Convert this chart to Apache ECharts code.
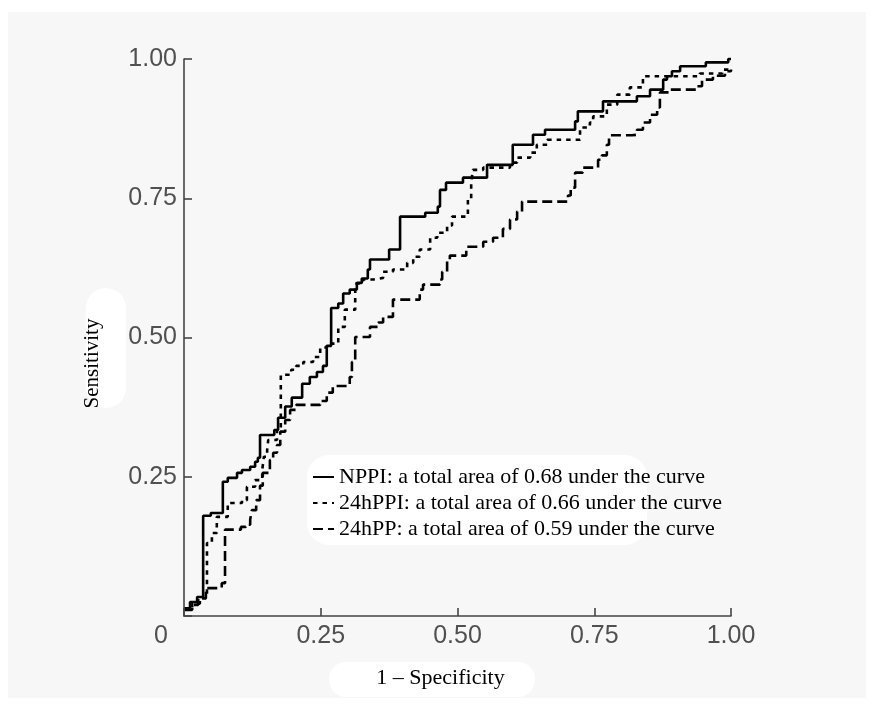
<!DOCTYPE html>
<html>
<head>
<meta charset="utf-8">
<script src="https://cdn.jsdelivr.net/npm/echarts@6/dist/echarts.min.js"></script>
<style>
html,body{margin:0;padding:0;background:#ffffff;}
#bg{position:absolute;left:8px;top:12px;width:858px;height:686px;background:#f7f7f7;}
#chart{position:absolute;left:0;top:0;width:874px;height:707px;}
</style>
</head>
<body>
<div id="bg"></div>
<div id="chart"></div>
<script>
// Tick values
const xTicks = [0, 0.25, 0.5, 0.75, 1.0];
const yTicks = [0.25, 0.5, 0.75, 1.0];

// Series names
const seriesNames = [
  'NPPI: a total area of 0.68 under the curve',
  '24hPPI: a total area of 0.66 under the curve',
  '24hPP: a total area of 0.59 under the curve'
];

// NPPI (solid) ROC corners: 1 - specificity / sensitivity
const nppiX = [0, 0.011, 0.024, 0.035, 0.049, 0.071, 0.080, 0.097, 0.106, 0.121, 0.130, 0.135, 0.139, 0.165, 0.172, 0.185, 0.197, 0.216, 0.230, 0.243, 0.254, 0.261, 0.269, 0.282, 0.291, 0.303, 0.316, 0.325, 0.336, 0.340, 0.375, 0.395, 0.441, 0.464, 0.468, 0.479, 0.510, 0.554, 0.601, 0.638, 0.660, 0.715, 0.720, 0.766, 0.828, 0.852, 0.876, 0.883, 0.892, 0.907, 0.954, 0.995, 1.0];
const nppiY = [0.014, 0.025, 0.034, 0.180, 0.185, 0.241, 0.248, 0.257, 0.262, 0.268, 0.277, 0.284, 0.325, 0.334, 0.356, 0.376, 0.392, 0.417, 0.429, 0.438, 0.449, 0.485, 0.553, 0.561, 0.579, 0.586, 0.598, 0.606, 0.622, 0.640, 0.658, 0.717, 0.724, 0.735, 0.765, 0.778, 0.787, 0.810, 0.846, 0.864, 0.873, 0.888, 0.906, 0.924, 0.933, 0.945, 0.963, 0.969, 0.978, 0.987, 0.994, 1.000, 1.000];

// 24hPPI (dotted)
const ppiX = [0, 0.015, 0.029, 0.042, 0.051, 0.060, 0.080, 0.106, 0.115, 0.130, 0.143, 0.146, 0.152, 0.154, 0.170, 0.177, 0.196, 0.205, 0.218, 0.236, 0.249, 0.261, 0.282, 0.294, 0.313, 0.327, 0.346, 0.364, 0.382, 0.408, 0.419, 0.431, 0.450, 0.463, 0.481, 0.490, 0.519, 0.525, 0.528, 0.547, 0.596, 0.609, 0.633, 0.645, 0.664, 0.724, 0.742, 0.748, 0.773, 0.792, 0.815, 0.839, 0.943, 0.984, 1.0];
const ppiY = [0.013, 0.022, 0.032, 0.131, 0.149, 0.178, 0.203, 0.208, 0.232, 0.244, 0.262, 0.286, 0.298, 0.316, 0.334, 0.433, 0.442, 0.449, 0.456, 0.465, 0.482, 0.489, 0.519, 0.550, 0.597, 0.604, 0.607, 0.618, 0.622, 0.634, 0.645, 0.658, 0.679, 0.688, 0.701, 0.717, 0.748, 0.778, 0.801, 0.805, 0.814, 0.823, 0.832, 0.846, 0.855, 0.877, 0.886, 0.897, 0.918, 0.936, 0.949, 0.969, 0.974, 0.981, 0.985];

// 24hPP (dashed)
const ppX = [0, 0.015, 0.026, 0.040, 0.069, 0.075, 0.104, 0.113, 0.121, 0.124, 0.132, 0.139, 0.144, 0.157, 0.163, 0.170, 0.176, 0.185, 0.194, 0.205, 0.249, 0.261, 0.272, 0.303, 0.307, 0.313, 0.340, 0.355, 0.364, 0.382, 0.431, 0.437, 0.468, 0.472, 0.481, 0.486, 0.516, 0.547, 0.565, 0.583, 0.596, 0.609, 0.618, 0.702, 0.707, 0.715, 0.729, 0.757, 0.764, 0.773, 0.777, 0.819, 0.828, 0.839, 0.852, 0.865, 0.870, 0.888, 0.938, 0.947, 0.967, 0.989, 1.0];
const ppY = [0.011, 0.020, 0.032, 0.050, 0.059, 0.155, 0.160, 0.164, 0.173, 0.190, 0.208, 0.234, 0.257, 0.280, 0.293, 0.307, 0.331, 0.352, 0.370, 0.379, 0.386, 0.401, 0.413, 0.429, 0.456, 0.501, 0.519, 0.527, 0.537, 0.568, 0.586, 0.595, 0.604, 0.618, 0.640, 0.647, 0.663, 0.672, 0.679, 0.695, 0.712, 0.726, 0.744, 0.755, 0.769, 0.796, 0.805, 0.819, 0.827, 0.846, 0.863, 0.864, 0.873, 0.886, 0.900, 0.913, 0.940, 0.945, 0.951, 0.963, 0.970, 0.978, 0.981];

const zip = (xs, ys) => xs.map((x, i) => [x, ys[i]]);

const chart = echarts.init(document.getElementById('chart'), null, {renderer: 'canvas'});
const axisColor = '#444';
const tickFont = {fontFamily: 'Liberation Sans', fontSize: 25, color: '#505050'};

chart.setOption({
  backgroundColor: 'transparent',
  animation: false,
  grid: {left: 184, top: 59, right: 143, bottom: 91, containLabel: false},
  graphic: [
    {type: 'rect', z: -5, silent: true, shape: {x: 86, y: 288, width: 40, height: 120, r: 20}, style: {fill: '#ffffff'}},
    {type: 'rect', z: -5, silent: true, shape: {x: 329, y: 662, width: 206, height: 35, r: 17}, style: {fill: '#ffffff'}},
    {type: 'rect', z: -5, silent: true, shape: {x: 307, y: 455, width: 340, height: 90, r: 22}, style: {fill: '#ffffff'}}
  ],
  legend: {
    orient: 'vertical',
    left: 312,
    top: 466,
    padding: 0,
    itemGap: 4,
    itemWidth: 21,
    itemHeight: 14,
    data: seriesNames,
    itemStyle: {opacity: 0, color: 'transparent', borderWidth: 0},
    textStyle: {fontFamily: 'Liberation Serif', fontSize: 22, color: '#000'}
  },
  xAxis: {
    type: 'value',
    z: 6,
    min: 0, max: 1, interval: 0.25,
    name: '1 – Specificity',
    nameLocation: 'middle',
    nameGap: 51,
    nameTextStyle: {fontFamily: 'Liberation Serif', fontSize: 22, color: '#000', padding: [0, 34, 0, 0]},
    axisLine: {lineStyle: {color: axisColor, width: 1.6}},
    axisTick: {inside: true, length: 8, lineStyle: {color: axisColor, width: 1.6}},
    splitLine: {show: false},
    axisLabel: Object.assign({
      margin: 8,
      formatter: v => (v === 0 ? '{z|0}' : v.toFixed(2)),
      rich: {z: Object.assign({padding: [0, 46, 0, 0]}, tickFont)}
    }, tickFont)
  },
  yAxis: {
    type: 'value',
    z: 6,
    min: 0, max: 1, interval: 0.25,
    name: 'Sensitivity',
    nameLocation: 'middle',
    nameGap: 81,
    nameTextStyle: {fontFamily: 'Liberation Serif', fontSize: 21, color: '#000', padding: [0, 52, 0, 0]},
    axisLine: {lineStyle: {color: axisColor, width: 1.6}},
    axisTick: {inside: true, length: 8, lineStyle: {color: axisColor, width: 1.6}},
    splitLine: {show: false},
    axisLabel: Object.assign({
      margin: 7,
      formatter: v => (yTicks.indexOf(v) >= 0 ? v.toFixed(2) : '')
    }, tickFont)
  },
  series: [
    {name: seriesNames[0], type: 'line', step: 'end', symbol: 'none', clip: false, z: 5,
     data: zip(nppiX, nppiY), lineStyle: {color: '#000', width: 2.6, type: 'solid'}, itemStyle: {color: '#000'}},
    {name: seriesNames[1], type: 'line', step: 'end', symbol: 'none', clip: false, z: 4,
     data: zip(ppiX, ppiY), lineStyle: {color: '#000', width: 2.6, type: [4.5, 5]}, itemStyle: {color: '#000'}},
    {name: seriesNames[2], type: 'line', step: 'end', symbol: 'none', clip: false, z: 3,
     data: zip(ppX, ppY), lineStyle: {color: '#000', width: 2.6, type: [10, 5]}, itemStyle: {color: '#000'}}
  ]
});
</script>
</body>
</html>
